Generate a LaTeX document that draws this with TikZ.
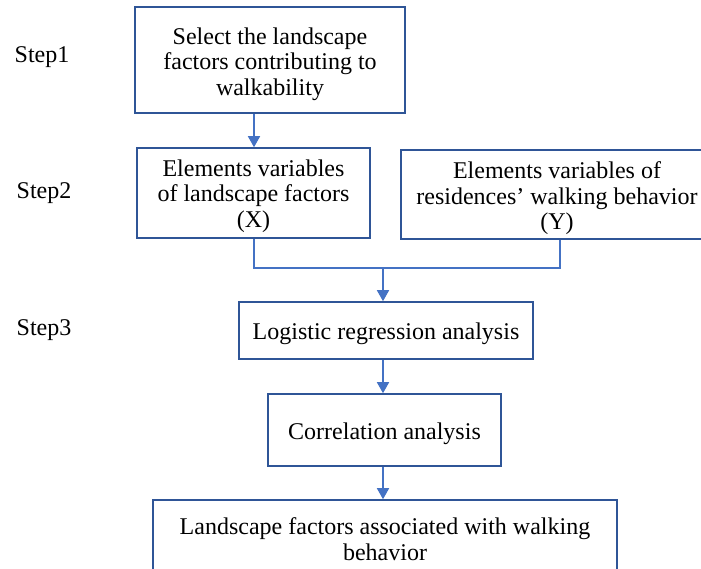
\documentclass[tikz,border=0pt]{standalone}
\usepackage{fontspec}
\setmainfont{Liberation Serif}
\usetikzlibrary{arrows.meta}
\definecolor{boxblue}{HTML}{2F5597}
\definecolor{linkblue}{HTML}{4472C4}
\tikzset{
  stepbox/.style={draw=boxblue, line width=1.6pt, fill=white, inner sep=0pt},
  boxtext/.style={align=center, inner sep=0pt, font=\fontsize{24}{25.5}\selectfont},
  steplabel/.style={inner sep=0pt, font=\fontsize{24}{25.5}\selectfont},
  link/.style={draw=linkblue, line width=1.6pt},
  linkarrow/.style={link, -{Triangle[width=12pt,length=11pt]}},
}
\begin{document}
\begin{tikzpicture}[x=1pt,y=-1pt]
\clip (0,0) rectangle (701,568);
\fill[white] (0,0) rectangle (701,568);

\node[stepbox, minimum width=270pt, minimum height=106pt] (s1) at (270,60) {};
\node[stepbox, minimum width=233pt, minimum height=90pt] (s2) at (253.5,193) {};
\node[stepbox, minimum width=312pt, minimum height=89pt] (s3) at (557,194.5) {};
\node[stepbox, minimum width=294pt, minimum height=57pt] (s4) at (386,330.5) {};
\node[stepbox, minimum width=233pt, minimum height=72pt] (s5) at (384.5,430) {};
\node[stepbox, minimum width=464pt, minimum height=70pt] (s6) at (385,535) {};

\node[boxtext] (t1) at ([yshift=-4pt]s1.center)
  {Select the landscape\\factors contributing to\\walkability};
\node[boxtext] (t2) at ([yshift=-3pt]s2.center)
  {Elements variables\\of landscape factors\\(X)};
\node[boxtext] (t3) at ([yshift=-4pt]s3.center)
  {Elements variables of\\residences’ walking behavior\\(Y)};
\node[boxtext] (t4) at ([yshift=-3pt]s4.center)
  {Logistic regression analysis};
\node[boxtext] (t5) at ([yshift=-4pt]s5.center)
  {Correlation analysis};
\node[boxtext] (t6) at ([yshift=-4pt]s6.center)
  {Landscape factors associated with walking\\behavior};

\node[steplabel] (l1) at (42,57) {Step1};
\node[steplabel] (l2) at (44,193) {Step2};
\node[steplabel] (l3) at (44,330) {Step3};

\coordinate (a1) at (254,0);
\coordinate (m) at (383,268);
\coordinate (bl) at (254,268);
\coordinate (br) at (560,268);

\draw[linkarrow] (a1 |- s1.south) -- (a1 |- s2.north);
\draw[link] (bl |- s2.south) -- (bl) -- (br) -- (br |- s3.south);
\draw[linkarrow] (m) -- (m |- s4.north);
\draw[linkarrow] (m |- s4.south) -- (m |- s5.north);
\draw[linkarrow] (m |- s5.south) -- (m |- s6.north);
\end{tikzpicture}
\end{document}
